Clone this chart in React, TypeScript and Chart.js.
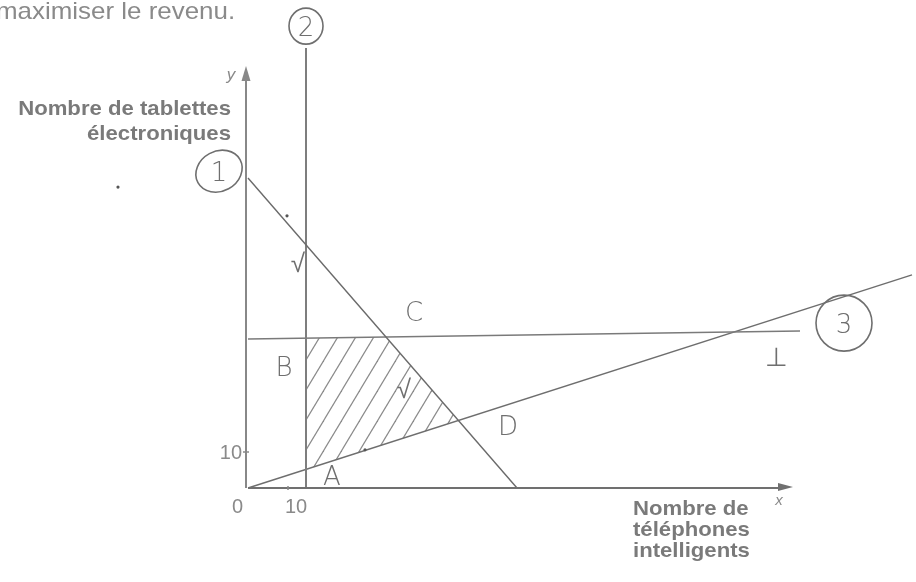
import React, { useEffect, useRef } from "react";
import { Chart, registerables } from "chart.js";

Chart.register(...registerables);

// ---- data (in axis units) ----
const X_MAX = 166;
const Y_MAX = 125;
const xAxisEnd = 136.25;
const yAxisEnd = 117.2;

const line1X = [0, 67.25];
const line1Y = [86.1, 0];
const line2X = [14.5, 14.5];
const line2Y = [0, 122.2];
const line3X = [0, 138];
const line3Y = [41.4, 43.6];
const line4X = [0, 166];
const line4Y = [0, 59.2];

const xTickValues = [0, 10];
const yTickValues = [10];

const yTitleLines = ["Nombre de tablettes", "électroniques"];
const xTitleLines = ["Nombre de", "téléphones", "intelligents"];
const headerText = "maximiser le revenu.";

type P = { x: number; y: number };
const toPoints = (xs: number[], ys: number[]): P[] => xs.map((x, i) => ({ x, y: ys[i] }));

const L1 = toPoints(line1X, line1Y);
const L2 = toPoints(line2X, line2Y);
const L3 = toPoints(line3X, line3Y);
const L4 = toPoints(line4X, line4Y);

function intersect(a: P[], b: P[]): P {
  const [p1, p2] = a;
  const [p3, p4] = b;
  const d = (p1.x - p2.x) * (p3.y - p4.y) - (p1.y - p2.y) * (p3.x - p4.x);
  const t = ((p1.x - p3.x) * (p3.y - p4.y) - (p1.y - p3.y) * (p3.x - p4.x)) / d;
  return { x: p1.x + t * (p2.x - p1.x), y: p1.y + t * (p2.y - p1.y) };
}

// feasible region A-B-C-D
const region: P[] = [intersect(L2, L4), intersect(L2, L3), intersect(L1, L3), intersect(L1, L4)];

const INK = "#6f6f6f";
const PRINT = "#7a7a7a";

function drawText(
  ctx: CanvasRenderingContext2D,
  s: string,
  x: number,
  y: number,
  font: string,
  color: string,
  align: "left" | "right" | "center" = "left",
  sx = 1.08
) {
  ctx.save();
  ctx.font = font;
  ctx.fillStyle = color;
  ctx.textBaseline = "alphabetic";
  ctx.textAlign = "left";
  const w = ctx.measureText(s).width * sx;
  const x0 = align === "left" ? x : align === "right" ? x - w : x - w / 2;
  ctx.translate(x0, y);
  ctx.scale(sx, 1);
  ctx.fillText(s, 0, 0);
  ctx.restore();
}

function makeHatch(): CanvasPattern | string {
  const w = 18;
  const h = 30;
  const tile = document.createElement("canvas");
  tile.width = w;
  tile.height = h;
  const t = tile.getContext("2d");
  if (!t) return "rgba(0,0,0,0.1)";
  t.strokeStyle = "#8a8a8a";
  t.lineWidth = 1.2;
  for (const off of [-w, 0, w]) {
    t.beginPath();
    t.moveTo(off - w, 2 * h);
    t.lineTo(off + 2 * w, -h);
    t.stroke();
  }
  const pat = t.createPattern(tile, "repeat");
  return pat || "rgba(0,0,0,0.1)";
}

export default function App() {
  const ref = useRef<HTMLCanvasElement | null>(null);

  useEffect(() => {
    const canvas = ref.current;
    if (!canvas) return;
    const hatch = makeHatch();

    const sketchPlugin = {
      id: "sketch",
      beforeDatasetsDraw(chart: any) {
        const ctx: CanvasRenderingContext2D = chart.ctx;
        const xs = chart.scales.x;
        const ys = chart.scales.y;
        ctx.save();
        ctx.beginPath();
        region.forEach((p, i) => {
          const px = xs.getPixelForValue(p.x);
          const py = ys.getPixelForValue(p.y);
          if (i === 0) ctx.moveTo(px, py);
          else ctx.lineTo(px, py);
        });
        ctx.closePath();
        ctx.fillStyle = hatch as any;
        ctx.fill();
        ctx.restore();
      },
      afterDatasetsDraw(chart: any) {
        const ctx: CanvasRenderingContext2D = chart.ctx;
        const xs = chart.scales.x;
        const ys = chart.scales.y;
        const X = (v: number) => xs.getPixelForValue(v);
        const Y = (v: number) => ys.getPixelForValue(v);
        const ox = X(0);
        const oy = Y(0);

        ctx.save();
        // y axis
        ctx.strokeStyle = "#888";
        ctx.fillStyle = "#888";
        ctx.lineWidth = 2;
        ctx.beginPath();
        ctx.moveTo(ox - 2, oy);
        ctx.lineTo(ox - 2, Y(yAxisEnd) + 10);
        ctx.stroke();
        ctx.beginPath();
        ctx.moveTo(ox - 2, Y(yAxisEnd));
        ctx.lineTo(ox - 6.5, Y(yAxisEnd) + 15);
        ctx.lineTo(ox + 2.5, Y(yAxisEnd) + 15);
        ctx.closePath();
        ctx.fill();
        // x axis
        ctx.strokeStyle = "#707070";
        ctx.fillStyle = "#707070";
        ctx.beginPath();
        ctx.moveTo(ox, oy);
        ctx.lineTo(X(xAxisEnd) - 10, oy);
        ctx.stroke();
        ctx.beginPath();
        ctx.moveTo(X(xAxisEnd), oy - 1);
        ctx.lineTo(X(xAxisEnd) - 15, oy - 5);
        ctx.lineTo(X(xAxisEnd) - 15, oy + 3);
        ctx.closePath();
        ctx.fill();
        // tick marks
        ctx.lineWidth = 1.5;
        ctx.strokeStyle = "#888";
        xTickValues.forEach((v) => {
          if (v === 0) return;
          ctx.beginPath();
          ctx.moveTo(X(v), oy - 2);
          ctx.lineTo(X(v), oy + 2);
          ctx.stroke();
        });
        yTickValues.forEach((v) => {
          ctx.beginPath();
          ctx.moveTo(ox - 5, Y(v));
          ctx.lineTo(ox + 1, Y(v));
          ctx.stroke();
        });
        ctx.restore();

        const tickFont = '20px "Liberation Sans", Arial, sans-serif';
        xTickValues.forEach((v) => {
          if (v === 0) drawText(ctx, String(v), X(v) - 5, oy + 25, tickFont, "#8a8a8a", "right", 1);
          else drawText(ctx, String(v), X(v) - 3, oy + 25, tickFont, "#8a8a8a", "left", 1);
        });
        yTickValues.forEach((v) => {
          drawText(ctx, String(v), ox - 6, Y(v) + 7, tickFont, "#8a8a8a", "right", 1);
        });

        // titles
        const titleFont = 'bold 20.5px "Liberation Sans", Arial, sans-serif';
        drawText(ctx, yTitleLines[0], ox - 17, 115, titleFont, PRINT, "right");
        drawText(ctx, yTitleLines[1], ox - 17, 140, titleFont, PRINT, "right");
        xTitleLines.forEach((s, i) => drawText(ctx, s, 633, 515 + i * 21, titleFont, PRINT, "left"));
        drawText(ctx, headerText, -4, 19, '24px "Liberation Sans", Arial, sans-serif', "#8a8a8a", "left");
        drawText(ctx, "y", ox - 17, 80, 'italic 17px "Liberation Sans", Arial, sans-serif', "#8a8a8a", "center", 1);
        drawText(ctx, "x", 779, 505, 'italic 15px "Liberation Sans", Arial, sans-serif', "#8a8a8a", "center", 1);

        // handwritten annotations (axis units)
        const hand = '300 26px "DejaVu Sans", sans-serif';
        const circles = [
          { u: -7.25, v: 88, rx: 24, ry: 20, rot: -0.5, label: "1" },
          { u: 14.5, v: 128.3, rx: 17, ry: 18, rot: 0, label: "2" },
          { u: 149, v: 45.8, rx: 28, ry: 28, rot: 0, label: "3" },
        ];
        ctx.save();
        ctx.strokeStyle = INK;
        ctx.lineWidth = 1.6;
        circles.forEach((c) => {
          ctx.beginPath();
          ctx.ellipse(X(c.u), Y(c.v), c.rx, c.ry, c.rot, 0, Math.PI * 2);
          ctx.stroke();
          drawText(ctx, c.label, X(c.u), Y(c.v) + 10, hand, INK, "center", 1);
        });
        ctx.restore();

        const notes = [
          { u: 41.5, v: 46.5, s: "C" },
          { u: 9, v: 31, s: "B" },
          { u: 21, v: 0.8, s: "A" },
          { u: 65, v: 14.8, s: "D" },
          { u: 12.5, v: 60, s: "√" },
          { u: 39, v: 25, s: "√" },
          { u: 132, v: 34, s: "⊥" },
        ];
        notes.forEach((n) => drawText(ctx, n.s, X(n.u), Y(n.v), hand, INK, "center", 1));

        // pencil dots
        ctx.save();
        ctx.fillStyle = "#555";
        [
          { u: 9.75, v: 75.6 },
          { u: -32.5, v: 83.6 },
          { u: 29.25, v: 10.6 },
        ].forEach((d) => {
          ctx.beginPath();
          ctx.arc(X(d.u), Y(d.v), 1.6, 0, Math.PI * 2);
          ctx.fill();
        });
        ctx.restore();
      },
    };

    const ds = (data: P[], color: string, width: number) => ({
      data,
      showLine: true,
      borderColor: color,
      borderWidth: width,
      pointRadius: 0,
      fill: false,
      clip: false as any,
    });

    const chart = new Chart(canvas, {
      type: "scatter",
      data: {
        datasets: [
          ds(L1, "#6a6a6a", 1.4),
          ds(L2, "#7e7e7e", 2),
          ds(L3, "#7a7a7a", 1.6),
          ds(L4, "#6e6e6e", 1.4),
        ],
      },
      options: {
        animation: false,
        responsive: false,
        maintainAspectRatio: false,
        layout: { padding: { left: 248, right: 916 - 248 - 4 * X_MAX, top: 488 - 3.6 * Y_MAX, bottom: 582 - 488 } },
        plugins: { legend: { display: false }, tooltip: { enabled: false } },
        scales: {
          x: { type: "linear", min: 0, max: X_MAX, display: false },
          y: { type: "linear", min: 0, max: Y_MAX, display: false },
        },
      },
      plugins: [sketchPlugin],
    });
    return () => chart.destroy();
  }, []);

  return (
    <div style={{ position: "absolute", left: 0, top: 0, width: 916, height: 582, background: "#fff" }}>
      <canvas ref={ref} width={916} height={582} />
    </div>
  );
}
